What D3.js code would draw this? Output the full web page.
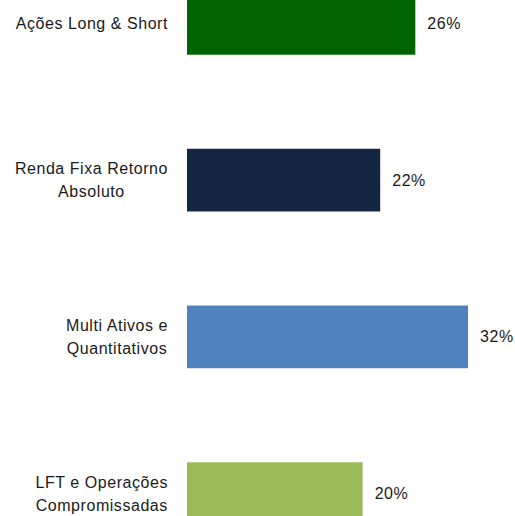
<!DOCTYPE html>
<html>
<head>
<meta charset="utf-8">
<script src="https://cdn.jsdelivr.net/npm/d3@7"></script>
<style>
  body { margin: 0; background: #fff; }
  text { font-family: "Liberation Sans", Arial, sans-serif; fill: #1a1a1a; letter-spacing: 0.55px; }
</style>
</head>
<body>
<div class="canvas"></div>
<script>
// data
const categories = [
  ['Ações Long & Short'],
  ['Renda Fixa Retorno', 'Absoluto'],
  ['Multi Ativos e', 'Quantitativos'],
  ['LFT e Operações', 'Compromissadas']
];
const values = [26, 22, 32, 20];
const colors = ['#006400', '#132640', '#4f81bd', '#9bbb59'];

const width = 515;
const height = 516;

const svg = d3.select('.canvas')
  .append('svg')
  .attr('width', width)
  .attr('height', height);

const keys = categories.map((c, i) => i);

// bands: step ~156.7, bar height ~62
const y = d3.scaleBand()
  .domain(keys)
  .range([-55, 572])
  .paddingInner(0.6)
  .paddingOuter(0.3);

const x = d3.scaleLinear()
  .domain([0, 32])
  .range([187, 468]);

// bars
svg.selectAll('rect')
  .data(values)
  .enter()
  .append('rect')
  .attr('x', x(0))
  .attr('y', (d, i) => y(i))
  .attr('width', d => x(d) - x(0))
  .attr('height', y.bandwidth())
  .attr('fill', (d, i) => colors[i]);

// value labels
svg.selectAll('.val')
  .data(values)
  .enter()
  .append('text')
  .attr('class', 'val')
  .attr('x', d => x(d) + 12)
  .attr('y', (d, i) => y(i) + y.bandwidth() / 2)
  .attr('dy', '0.35em')
  .style('font-size', '16px')
  .text(d => d + '%');

// category labels: block right-aligned at 168, lines centred in block
const labelRight = 168;
const lineGap = 23;
categories.forEach((lines, i) => {
  const g = svg.append('g');
  const cy = y(i) + y.bandwidth() / 2;
  const texts = lines.map((line, j) => g.append('text')
    .attr('y', cy + (j - (lines.length - 1) / 2) * lineGap)
    .attr('dy', '0.35em')
    .attr('text-anchor', 'middle')
    .style('font-size', '16px')
    .text(line));
  const maxW = d3.max(texts, t => t.node().getComputedTextLength());
  texts.forEach(t => t.attr('x', labelRight - maxW / 2));
});
</script>
</body>
</html>
